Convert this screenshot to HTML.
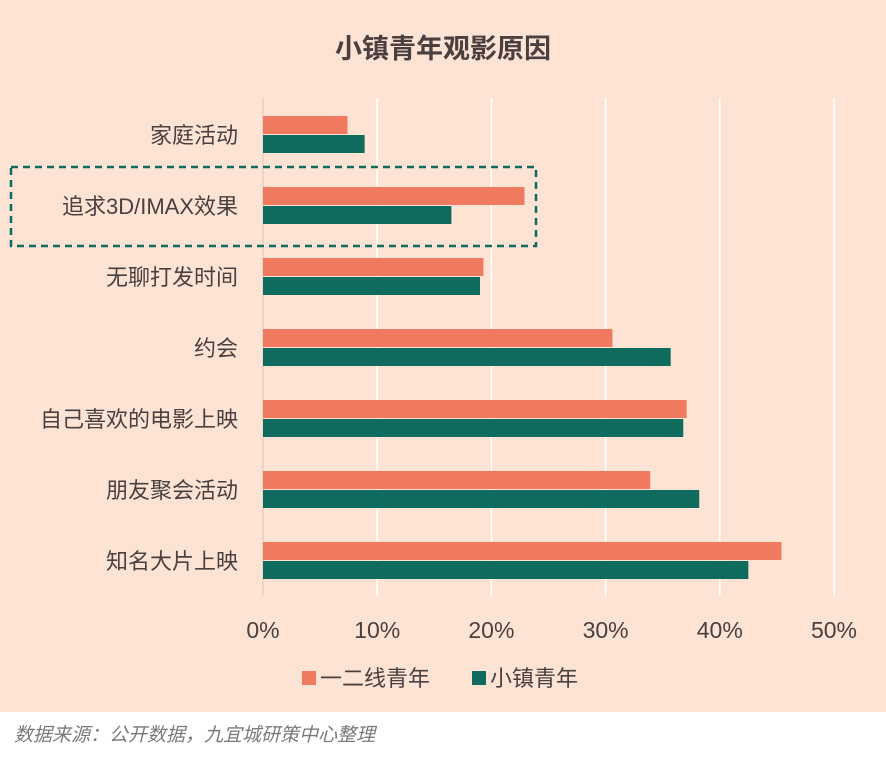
<!DOCTYPE html>
<html><head><meta charset="utf-8"><style>
body{margin:0;width:886px;height:759px;background:#fff;overflow:hidden;font-family:"Liberation Sans","Noto Sans CJK SC",sans-serif}
</style></head><body>
<svg width="886" height="759" id="c">
<rect x="0" y="0" width="886" height="712" fill="#FCE3D3"/>
<text x="443" y="58" text-anchor="middle" font-size="27" font-weight="bold" fill="#4a4040">小镇青年观影原因</text>
<g id="grid"></g><g id="bars"></g><g id="labels"></g>
<rect x="11" y="167" width="525" height="79" fill="none" stroke="#0E6B5E" stroke-width="2.5" stroke-dasharray="7,5"/>
<rect x="302" y="671" width="14" height="14" fill="#F07A60"/>
<text x="320" y="686" font-size="22" fill="#4a4040">一二线青年</text>
<rect x="472" y="671" width="14" height="14" fill="#0E6B5E"/>
<text x="490" y="686" font-size="22" fill="#4a4040">小镇青年</text>
<text x="14" y="741" font-size="19" font-style="italic" fill="#7a7a7a">数据来源：公开数据，九宜城研策中心整理</text>
</svg>
<script>
const categories=["家庭活动","追求3D/IMAX效果","无聊打发时间","约会","自己喜欢的电影上映","朋友聚会活动","知名大片上映"];
const tier12=[7.4,22.9,19.3,30.6,37.1,33.9,45.4];
const town=[8.9,16.5,19.0,35.7,36.8,38.2,42.5];
const ticks=[0,10,20,30,40,50];
const NS="http://www.w3.org/2000/svg";
const x=v=>263+v*11.42;
const yc=i=>135+i*71;
function mk(t,a,p){const e=document.createElementNS(NS,t);for(const k in a)e.setAttribute(k,a[k]);document.getElementById(p).appendChild(e);return e;}
ticks.forEach(t=>{
 const l=mk('line',{x1:x(t),x2:x(t),y1:98,y2:596,stroke:t===0?'#e6d0c2':'#ffffff','stroke-width':1.5},'grid');
 
 
 const tx=mk('text',{x:x(t),y:638,'text-anchor':'middle','font-size':23,fill:'#4a4040'},'grid');
 tx.textContent=t+'%';
 
 
});
categories.forEach((c,i)=>{
 const a=mk('rect',{x:x(0),y:yc(i)-19,width:x(tier12[i])-x(0),height:18,fill:'#F07A60'},'bars');
 
 
 const b=mk('rect',{x:x(0),y:yc(i),width:x(town[i])-x(0),height:18,fill:'#0E6B5E'},'bars');
 
 
 const t=mk('text',{x:238,y:yc(i)+8,'text-anchor':'end','font-size':22,fill:'#4a4040'},'labels');
 t.textContent=c;
 
 
});
</script>
</body></html>
